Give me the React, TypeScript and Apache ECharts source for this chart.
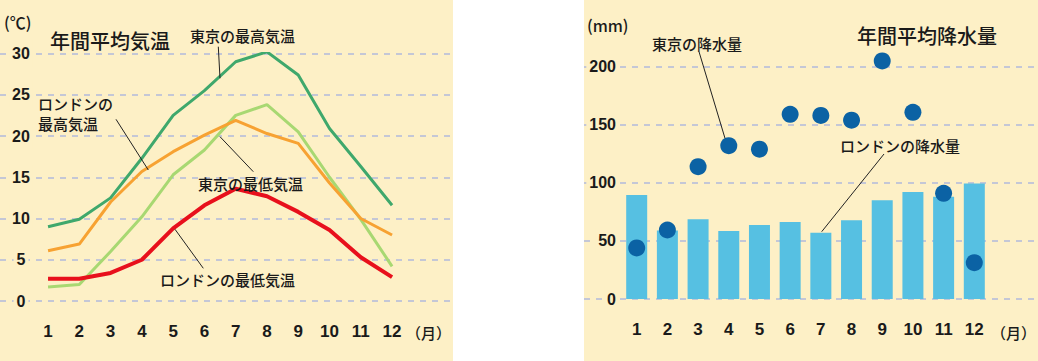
import React, { useEffect, useRef } from "react";
import * as echarts from "echarts";

const months = ["1", "2", "3", "4", "5", "6", "7", "8", "9", "10", "11", "12"];
const tokyoMax = [9.0, 9.9, 12.5, 17.3, 22.5, 25.5, 29.0, 30.2, 27.4, 20.9, 16.3, 11.6];
const londonMax = [6.1, 6.9, 12.0, 15.7, 18.1, 20.1, 21.9, 20.3, 19.1, 14.3, 10.0, 8.0];
const tokyoMin = [1.7, 2.0, 6.0, 10.2, 15.3, 18.3, 22.5, 23.8, 20.5, 15.0, 9.9, 4.2];
const londonMin = [2.7, 2.7, 3.4, 5.0, 8.8, 11.6, 13.6, 12.7, 10.8, 8.6, 5.3, 2.9];
const londonRain = [89.5, 59, 68.6, 58.5, 63.7, 66.3, 57.1, 67.7, 85, 92.1, 88, 99.5];
const tokyoRain = [44, 59.4, 113.9, 132, 129, 159, 158, 154, 205, 160.7, 91, 31.3];

const BEIGE = "#fdf0c6";
const GRID_LINE = "#c4c7d6";
const FONT = "'Liberation Sans', Arial, 'Noto Sans CJK JP', sans-serif";
const JP = "'Noto Sans CJK JP', sans-serif";

function label(text: string, x: number, y: number, size = 15, weight = "500") {
  return {
    type: "text",
    x,
    y,
    z: 100,
    style: {
      text,
      fill: "#1a1a1a",
      font: `${weight} ${size}px ${JP}`,
      textAlign: "left",
      textVerticalAlign: "middle",
    },
  };
}

function leader(x1: number, y1: number, x2: number, y2: number) {
  return {
    type: "line",
    z: 100,
    shape: { x1, y1, x2, y2 },
    style: { stroke: "#222", lineWidth: 1 },
  };
}

export default function App() {
  const ref = useRef<HTMLDivElement>(null);
  useEffect(() => {
    if (!ref.current) return;
    const chart = echarts.init(ref.current, undefined, { renderer: "svg" });
    const gridLineAxis = (max: number, interval: number, margin: number, align: string) => ({
      min: 0,
      max,
      interval,
      axisLine: { show: false },
      axisTick: { show: false },
      splitLine: { show: true, lineStyle: { color: GRID_LINE, width: 2, type: [6, 6] } },
      axisLabel: {
        inside: true,
        margin,
        align,
        fontSize: 16,
        fontWeight: "bold",
        color: "#1a1a1a",
        fontFamily: FONT,
        backgroundColor: BEIGE,
        padding: [10, 3, 0, 3],
      },
    });
    const catAxis = (gridIndex: number) => ({
      gridIndex,
      type: "category",
      data: months,
      axisLine: { show: false },
      axisTick: { show: false },
      axisLabel: {
        margin: 22,
        fontSize: 17,
        fontWeight: "bold",
        color: "#1a1a1a",
        fontFamily: FONT,
        interval: 0,
      },
    });
    const lineSeries = (data: number[], color: string, width: number) => ({
      type: "line",
      xAxisIndex: 1,
      yAxisIndex: 1,
      data,
      symbol: "none",
      lineStyle: { color, width },
    });
    chart.setOption({
      animation: false,
      backgroundColor: "#ffffff",
      grid: [
        { left: 0, top: 53.5, width: 453, height: 247.5 },
        { left: 32.4, top: 53.5, width: 375.3, height: 247.5 },
        { left: 584, top: 66.7, width: 454, height: 232.3 },
        { left: 621.35, top: 66.7, width: 368.3, height: 232.3 },
      ],
      xAxis: [
        { gridIndex: 0, type: "value", min: 0, max: 1, show: false },
        catAxis(1),
        { gridIndex: 2, type: "value", min: 0, max: 1, show: false },
        catAxis(3),
      ],
      yAxis: [
        { gridIndex: 0, ...gridLineAxis(30, 5, 21, "center") },
        { gridIndex: 1, min: 0, max: 30, show: false },
        { gridIndex: 2, ...gridLineAxis(200, 50, 35, "right") },
        { gridIndex: 3, min: 0, max: 200, show: false },
      ],
      series: [
        lineSeries(tokyoMin, "#a8d872", 3),
        lineSeries(londonMax, "#f7a232", 3),
        lineSeries(tokyoMax, "#3fa86c", 3),
        lineSeries(londonMin, "#e8101c", 4),
        {
          type: "bar",
          xAxisIndex: 3,
          yAxisIndex: 3,
          data: londonRain,
          barWidth: 21,
          itemStyle: { color: "#56c0e2" },
        },
        {
          type: "scatter",
          xAxisIndex: 3,
          yAxisIndex: 3,
          data: tokyoRain,
          symbolSize: 17,
          clip: false,
          itemStyle: { color: "#0b62a4", opacity: 1 },
          z: 5,
        },
      ],
      graphic: [
        { type: "rect", z: -10, shape: { x: 0, y: 0, width: 453, height: 361 }, style: { fill: BEIGE } },
        { type: "rect", z: -10, shape: { x: 584, y: 0, width: 454, height: 361 }, style: { fill: BEIGE } },
        label("(℃)", 4, 22, 16),
        label("年間平均気温", 50, 40, 20),
        label("東京の最高気温", 190, 35),
        label("ロンドンの", 38, 103),
        label("最高気温", 38, 123),
        label("東京の最低気温", 198, 183),
        label("ロンドンの最低気温", 160, 279),
        label("（月）", 406, 332, 15),
        leader(218.3, 46.7, 220, 78.3),
        leader(116, 119.3, 148.3, 170),
        leader(220, 136.7, 253.3, 171.7),
        leader(175, 229.3, 203.3, 268.3),
        label("(mm)", 587, 25, 16),
        label("年間平均降水量", 857, 35, 20),
        label("東京の降水量", 652, 43),
        label("ロンドンの降水量", 840, 145),
        label("（月）", 991, 332, 15),
        leader(699, 51.7, 725, 138.3),
        leader(884, 154, 821.7, 231.7),
      ],
    });
    return () => chart.dispose();
  }, []);
  return (
    <div
      ref={ref}
      style={{ position: "fixed", left: 0, top: 0, width: 1038, height: 361 }}
    />
  );
}
